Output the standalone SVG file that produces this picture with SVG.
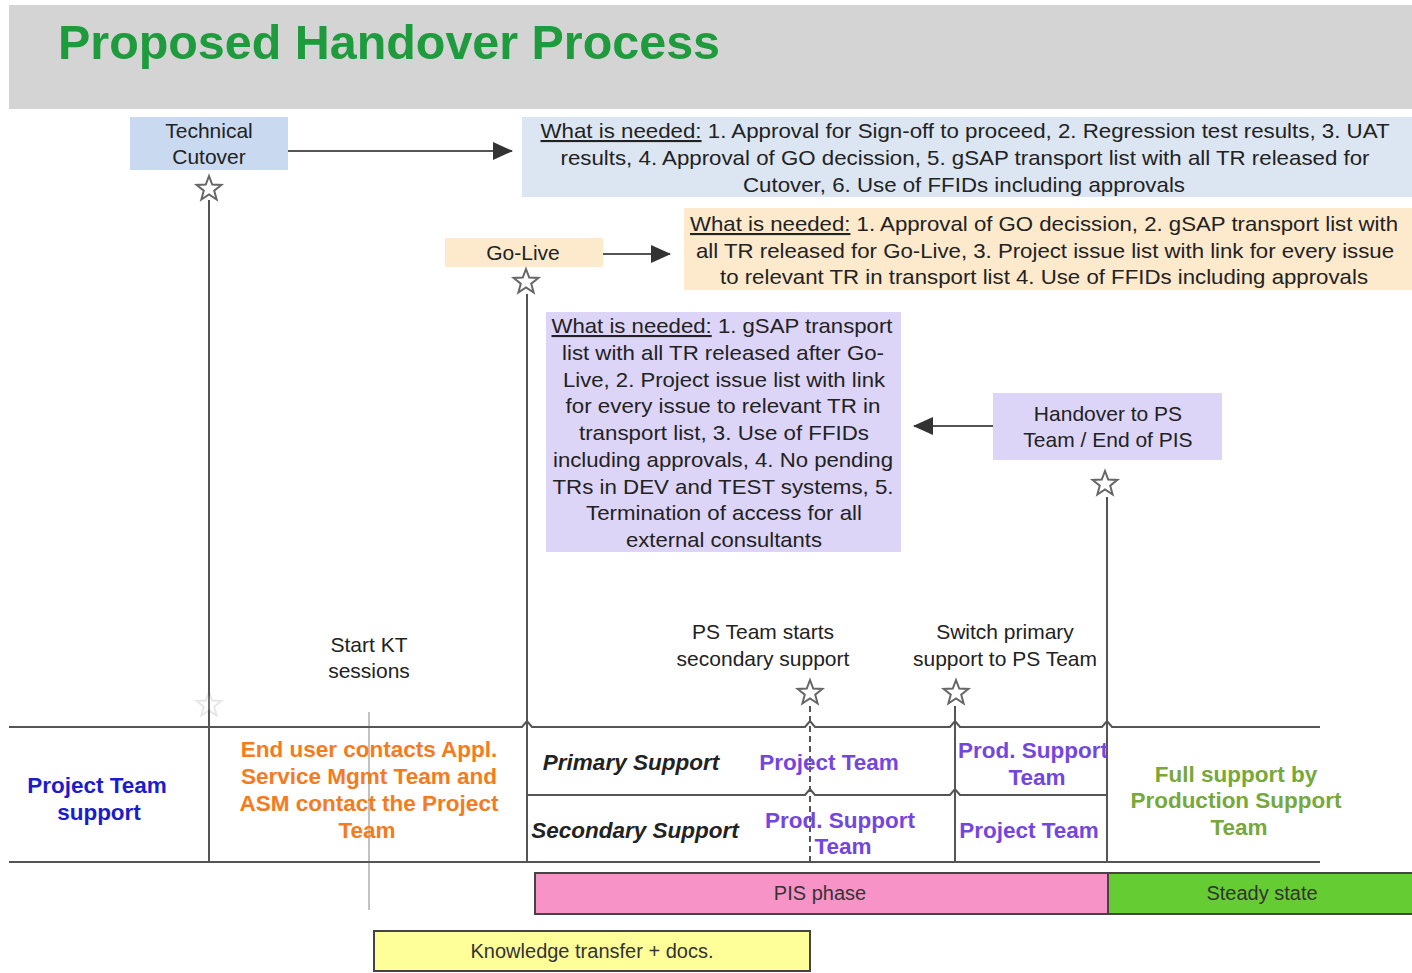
<svg xmlns="http://www.w3.org/2000/svg" width="1412" height="973" viewBox="0 0 1412 973">
<style>
.t{font-family:"Liberation Sans",Arial,sans-serif;font-size:21px;fill:#222;text-anchor:middle}
.u{text-decoration:underline}
.b{font-weight:bold;font-size:22.5px}
.ln{stroke:#555;stroke-width:2;fill:none}
.pur{fill:#7446e0;font-weight:bold;font-size:22.5px}
.bar{stroke:#444;stroke-width:2}
.sm{font-family:"Liberation Sans",Arial,sans-serif;font-size:20px;fill:#333;text-anchor:middle}
</style>
<defs>
<marker id="ah" viewBox="0 0 20 18" refX="19" refY="9" markerWidth="20" markerHeight="18" markerUnits="userSpaceOnUse" orient="auto">
<path d="M0,0 L20,9 L0,18 z" fill="#333"/>
</marker>
<polygon id="star" points="0,-13 3.23,-4.45 12.36,-4.02 5.23,1.7 7.64,10.52 0,5.5 -7.64,10.52 -5.23,1.7 -12.36,-4.02 -3.23,-4.45" fill="#fff" stroke="#666" stroke-width="2"/>
</defs>
<rect width="1412" height="973" fill="#fff"/>
<g id="header">
<rect x="9" y="5" width="1403" height="104" fill="#d4d4d4"/>
<text x="58" y="59" font-family="'Liberation Sans',Arial,sans-serif" font-size="48" font-weight="bold" fill="#1e9b3c" textLength="662" lengthAdjust="spacingAndGlyphs">Proposed Handover Process</text>
</g>
<g id="connectors">
<line class="ln" x1="209" y1="200" x2="209" y2="862"/>
<line class="ln" x1="527" y1="294" x2="527" y2="862"/>
<line class="ln" x1="1107" y1="497" x2="1107" y2="862"/>
<line class="ln" x1="955" y1="706" x2="955" y2="862"/>
<line class="ln" x1="810" y1="706" x2="810" y2="862" stroke-dasharray="6,4"/>
<line x1="369" y1="712" x2="369" y2="910" stroke="#999" stroke-width="1.2"/>
<path class="ln" d="M9,727 H522 l5,-6 l5,6 H805 l5,-6 l5,6 H950 l5,-6 l5,6 H1102 l5,-6 l5,6 H1320"/>
<path class="ln" d="M527,795 H805 l5,-6 l5,6 H950 l5,-6 l5,6 H1107"/>
<line class="ln" x1="9" y1="862" x2="1320" y2="862"/>
<line class="ln" x1="285" y1="151" x2="512" y2="151" marker-end="url(#ah)"/>
<line class="ln" x1="580" y1="254" x2="670" y2="254" marker-end="url(#ah)"/>
<line class="ln" x1="1005" y1="426" x2="914" y2="426" marker-end="url(#ah)"/>
</g>
<g id="tech-cutover">
<rect x="130" y="117" width="158" height="53" fill="#c9d9f0"/>
<text class="t" x="209" y="138">Technical</text>
<text class="t" x="209" y="164">Cutover</text>
<use href="#star" x="209" y="189"/>
</g>
<g id="cutover-needs">
<rect x="522" y="117" width="890" height="80" fill="#dce6f2"/>
<text class="t" x="965" y="138" textLength="849" lengthAdjust="spacingAndGlyphs"><tspan class="u">What is needed:</tspan> 1. Approval for Sign-off to proceed, 2. Regression test results, 3. UAT</text>
<text class="t" x="965" y="165" textLength="809" lengthAdjust="spacingAndGlyphs">results, 4. Approval of GO decission, 5. gSAP transport list with all TR released for</text>
<text class="t" x="964" y="192" textLength="442" lengthAdjust="spacingAndGlyphs">Cutover, 6. Use of FFIDs including approvals</text>
</g>
<g id="go-live">
<rect x="445" y="238" width="158" height="29" fill="#fde9cc"/>
<text class="t" x="523" y="260">Go-Live</text>
<use href="#star" x="526" y="282"/>
</g>
<g id="golive-needs">
<rect x="684" y="208" width="728" height="82" fill="#fde9cc"/>
<text class="t" x="1044" y="231" textLength="708" lengthAdjust="spacingAndGlyphs"><tspan class="u">What is needed:</tspan> 1. Approval of GO decission, 2. gSAP transport list with</text>
<text class="t" x="1045" y="258" textLength="698" lengthAdjust="spacingAndGlyphs">all TR released for Go-Live, 3. Project issue list with link for every issue</text>
<text class="t" x="1044" y="284" textLength="648" lengthAdjust="spacingAndGlyphs">to relevant TR in transport list 4. Use of FFIDs including approvals</text>
</g>
<g id="pis-needs">
<rect x="546" y="312" width="355" height="240" fill="#ddd5f7"/>
<text class="t" x="722" y="333" textLength="341" lengthAdjust="spacingAndGlyphs"><tspan class="u">What is needed:</tspan> 1. gSAP transport</text>
<text class="t" x="723" y="360" textLength="322" lengthAdjust="spacingAndGlyphs">list with all TR released after Go-</text>
<text class="t" x="724" y="387" textLength="322" lengthAdjust="spacingAndGlyphs">Live, 2. Project issue list with link</text>
<text class="t" x="723" y="413" textLength="315" lengthAdjust="spacingAndGlyphs">for every issue to relevant TR in</text>
<text class="t" x="724" y="440" textLength="290" lengthAdjust="spacingAndGlyphs">transport list, 3. Use of FFIDs</text>
<text class="t" x="723" y="467" textLength="340" lengthAdjust="spacingAndGlyphs">including approvals, 4. No pending</text>
<text class="t" x="723" y="494" textLength="341" lengthAdjust="spacingAndGlyphs">TRs in DEV and TEST systems, 5.</text>
<text class="t" x="724" y="520" textLength="276" lengthAdjust="spacingAndGlyphs">Termination of access for all</text>
<text class="t" x="724" y="547" textLength="196" lengthAdjust="spacingAndGlyphs">external consultants</text>
</g>
<g id="handover">
<rect x="993" y="393" width="229" height="67" fill="#ddd5f7"/>
<text class="t" x="1108" y="421">Handover to PS</text>
<text class="t" x="1108" y="447">Team / End of PIS</text>
<use href="#star" x="1105" y="484"/>
</g>
<g id="milestones">
<use href="#star" x="209" y="705" opacity="0.15"/>
<text class="t" x="369" y="652">Start KT</text>
<text class="t" x="369" y="678">sessions</text>
<text class="t" x="763" y="639">PS Team starts</text>
<text class="t" x="763" y="666">secondary support</text>
<use href="#star" x="810" y="693"/>
<text class="t" x="1005" y="639">Switch primary</text>
<text class="t" x="1005" y="666">support to PS Team</text>
<use href="#star" x="956" y="693"/>
</g>
<g id="table-text">
<text class="t b" x="97" y="793" style="fill:#1c1ccf">Project Team</text>
<text class="t b" x="99" y="820" style="fill:#1c1ccf">support</text>
<text class="t b" x="369" y="757" style="fill:#f47b20">End user contacts Appl.</text>
<text class="t b" x="369" y="784" style="fill:#f47b20">Service Mgmt Team and</text>
<text class="t b" x="369" y="811" style="fill:#f47b20">ASM contact the Project</text>
<text class="t b" x="367" y="838" style="fill:#f47b20">Team</text>
<text class="t b" x="631" y="770" font-style="italic">Primary Support</text>
<text class="t b" x="635" y="838" font-style="italic">Secondary Support</text>
<text class="t pur" x="829" y="770">Project Team</text>
<text class="t pur" x="840" y="828">Prod. Support</text>
<text class="t pur" x="843" y="854">Team</text>
<text class="t pur" x="1033" y="758">Prod. Support</text>
<text class="t pur" x="1037" y="785">Team</text>
<text class="t pur" x="1029" y="838">Project Team</text>
<text class="t b" x="1236" y="782" style="fill:#77a83a">Full support by</text>
<text class="t b" x="1236" y="808" style="fill:#77a83a">Production Support</text>
<text class="t b" x="1239" y="835" style="fill:#77a83a">Team</text>
</g>
<g id="pis-phase">
<rect class="bar" x="535" y="873" width="573" height="41" fill="#f893c8"/>
<text class="sm" x="820" y="900">PIS phase</text>
</g>
<g id="steady-state">
<rect class="bar" x="1108" y="873" width="310" height="41" fill="#66cc33"/>
<text class="sm" x="1262" y="900">Steady state</text>
</g>
<g id="knowledge-transfer">
<rect class="bar" x="374" y="931" width="436" height="40" fill="#ffff99"/>
<text class="sm" x="592" y="958">Knowledge transfer + docs.</text>
</g>
</svg>
